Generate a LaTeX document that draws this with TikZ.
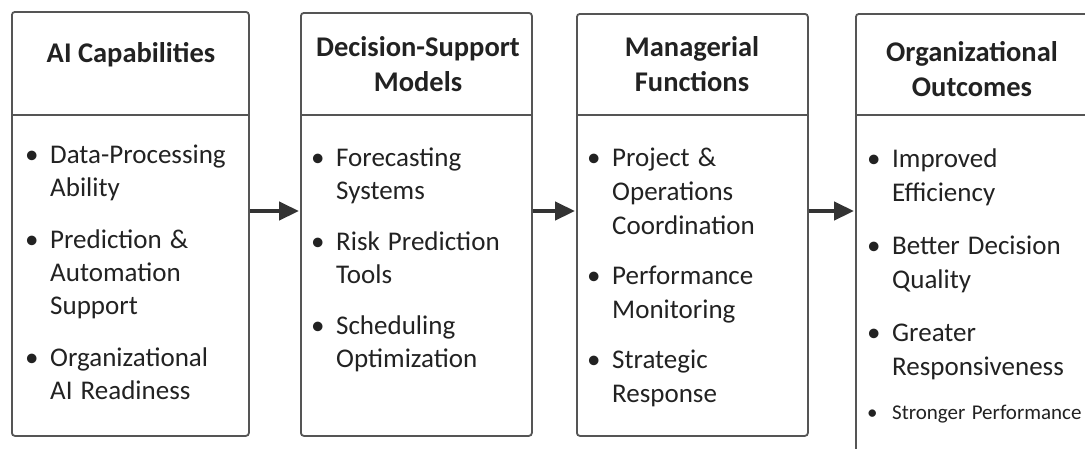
\documentclass[tikz,border=0pt]{standalone}
\usepackage{fontspec}
\setmainfont{Carlito}
\usetikzlibrary{arrows.meta}

\definecolor{ink}{HTML}{222222}
\definecolor{edge}{HTML}{555555}
\definecolor{flowgray}{HTML}{333333}

% one bullet item with a hanging indent
\newcommand\bul[1]{\hangindent=22pt\hangafter=1\noindent
  \makebox[22pt][l]{\hspace{-3pt}\textbullet}#1\par}
% list font: size, line pitch and a slightly wider word space
\newcommand\listfont[2]{\raggedright\fontsize{#1}{#2}\selectfont
  \spaceskip=0.3em plus 0.1em minus 0.05em\relax}

\tikzset{
  panel/.style={draw=edge, line width=1.8pt, rounded corners=3pt, fill=white,
                anchor=north west, inner sep=0},
  rule/.style={draw=edge, line width=1.8pt},
  head/.style={font=\fontsize{28.5}{35}\selectfont\bfseries, align=center,
               text=ink, inner sep=0},
  body/.style={text=ink, inner sep=0, anchor=base west, text width=240pt},
  flow/.style={-{Triangle[length=20pt,width=18pt]}, line width=4.5pt,
               draw=flowgray, shorten >=1pt},
}

\begin{document}
\begin{tikzpicture}[x=1pt, y=-1pt]
\useasboundingbox (0,0) rectangle (1085,448);
\clip (0,0) rectangle (1085,448);
\fill[white] (0,0) rectangle (1085,448);

% panels
\node[panel, minimum width=237pt, minimum height=424pt] (p1) at (11,11) {};
\node[panel, minimum width=231pt, minimum height=423pt] (p2) at (300,12) {};
\node[panel, minimum width=231pt, minimum height=422pt] (p3) at (576,13) {};
\node[panel, minimum width=260pt, minimum height=440pt] (p4) at (855,13) {};

% header rules
\draw[rule] (p1.west |- 0,115) -- (p1.east |- 0,115);
\draw[rule] (p2.west |- 0,115) -- (p2.east |- 0,115);
\draw[rule] (p3.west |- 0,115) -- (p3.east |- 0,115);
\draw[rule] (p4.west |- 0,115) -- (p4.east |- 0,115);

% headings
\node[head] (h1) at (131,55) {AI Capabilities};
\node[head] (h2) at (418,64) {Decision-Support\\Models};
\node[head] (h3) at (692,64) {Managerial\\Functions};
\node[head] (h4) at (972,69) {Organizational\\Outcomes};

% bullet lists
\node[body] (l1) at (28,163) {\listfont{27}{33}\parskip=19pt
  \bul{Data-Processing\newline Ability}
  \bul{Prediction \&\newline Automation\newline Support}
  \bul{Organizational\newline AI Readiness}};
\node[body] (l2) at (314,166) {\listfont{27}{33}\parskip=18pt
  \bul{Forecasting\newline Systems}
  \bul{Risk Prediction\newline Tools}
  \bul{Scheduling\newline Optimization}};
\node[body] (l3) at (590,166) {\listfont{27}{34}\parskip=16pt
  \bul{Project \&\newline Operations\newline Coordination}
  \bul{Performance\newline Monitoring}
  \bul{Strategic\newline Response}};
\node[body] (l4) at (870,167) {\listfont{27}{34.5}\parskip=18pt
  \bul{Improved\newline Efficiency}
  \bul{Better Decision\newline Quality}
  \bul{Greater\newline Responsiveness}
  {\listfont{21}{26}\bul{Stronger Performance}}};

% flow arrows
\draw[flow] (p1.east |- 0,211) -- (p2.west |- 0,211);
\draw[flow] (p2.east |- 0,211) -- (p3.west |- 0,211);
\draw[flow] (p3.east |- 0,211) -- (p4.west |- 0,211);
\end{tikzpicture}
\end{document}
